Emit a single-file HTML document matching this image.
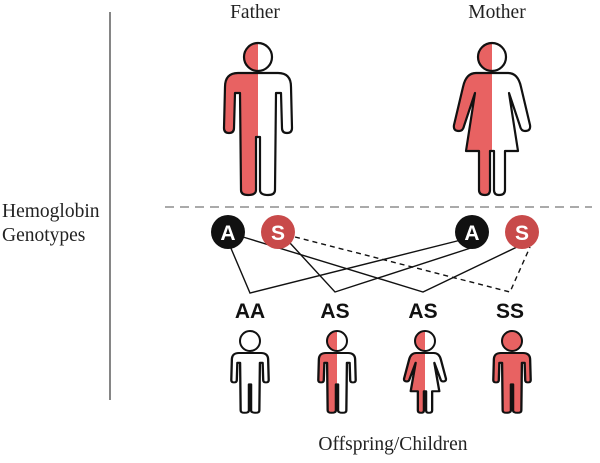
<!DOCTYPE html>
<html><head><style>html,body{margin:0;padding:0;background:#fff;}</style></head>
<body>
<svg width="600" height="458" viewBox="0 0 600 458" xmlns="http://www.w3.org/2000/svg">
<defs>
<clipPath id="L"><rect x="-100" y="-100" width="100" height="300"/></clipPath>
<path id="man" d="M-20,0 H20 Q33,0 33,14 L34,55 Q34,60 29,60 Q24,60 24,55 L23,20 L18,20 L17,117 Q17,122 10,122 Q2,122 2,117 L2,64 L-2,64 L-2,117 Q-2,122 -10,122 Q-17,122 -17,117 L-18,20 L-23,20 L-24,55 Q-24,60 -29,60 Q-34,60 -34,55 L-33,14 Q-33,0 -20,0Z"/>
<path id="wom" d="M-16,0 H16 Q26,0 29,14 L38,52 Q39,58 33,58 Q29,58 28,53 L17,20 L26,78 H13 L13,117 Q13,122 7,122 Q2,122 2,117 L2,78 H-2 L-2,117 Q-2,122 -7,122 Q-13,122 -13,117 L-13,78 H-26 L-17,20 L-28,53 Q-29,58 -33,58 Q-39,58 -38,52 L-29,14 Q-26,0 -16,0Z"/>
</defs>
<g font-family="Liberation Serif, serif" font-size="19.5" fill="#222">
<text x="255" y="18" text-anchor="middle">Father</text>
<text x="497" y="18" text-anchor="middle">Mother</text>
<text x="2" y="217">Hemoglobin</text>
<text x="2" y="241">Genotypes</text>
<text x="393" y="450" text-anchor="middle">Offspring/Children</text>
</g>
<line x1="110" y1="12" x2="110" y2="400" stroke="#444" stroke-width="1.3"/>
<line x1="165" y1="207" x2="592" y2="207" stroke="#777" stroke-width="1.3" stroke-dasharray="9,6"/>

<!-- Father -->
<g transform="translate(258,73)" stroke="#111" stroke-width="2.2" stroke-linejoin="round">
<use href="#man" fill="#fff" stroke="none"/>
<use href="#man" fill="#e86262" stroke="none" clip-path="url(#L)"/>
<use href="#man" fill="none"/>
<circle cy="-16" r="14" fill="#fff" stroke="none"/>
<circle cy="-16" r="14" fill="#e86262" stroke="none" clip-path="url(#L)"/>
<circle cy="-16" r="14" fill="none"/>
</g>
<!-- Mother -->
<g transform="translate(492,73)" stroke="#111" stroke-width="2.2" stroke-linejoin="round">
<use href="#wom" fill="#fff" stroke="none"/>
<use href="#wom" fill="#e86262" stroke="none" clip-path="url(#L)"/>
<use href="#wom" fill="none"/>
<circle cy="-16" r="14" fill="#fff" stroke="none"/>
<circle cy="-16" r="14" fill="#e86262" stroke="none" clip-path="url(#L)"/>
<circle cy="-16" r="14" fill="none"/>
</g>

<!-- lines -->
<g stroke="#111" stroke-width="1.4" fill="none">
<polyline points="230,246 250,293 465,239"/>
<polyline points="290,243 335,292 480,245"/>
<polyline points="243,237 423,292 517,247"/>
<polyline points="295,237 510,292 530,247" stroke-dasharray="5,4"/>
</g>
<g font-family="Liberation Sans, sans-serif" font-weight="bold" font-size="21" text-anchor="middle">
<circle cx="228" cy="232" r="17" fill="#111"/><text x="228" y="240" fill="#fff">A</text>
<circle cx="278" cy="232" r="17" fill="#c84a4a"/><text x="278" y="240" fill="#fff">S</text>
<circle cx="472" cy="232" r="17" fill="#111"/><text x="472" y="240" fill="#fff">A</text>
<circle cx="522" cy="232" r="17" fill="#c84a4a"/><text x="522" y="240" fill="#fff">S</text>
<g fill="#111"><text x="250" y="318">AA</text><text x="335" y="318">AS</text><text x="423" y="318">AS</text><text x="510" y="318">SS</text></g>
</g>

<!-- children -->
<g stroke="#111" stroke-linejoin="round">
<g transform="translate(250,353)">
<g transform="scale(0.55,0.49)" stroke-width="4.2"><use href="#man" fill="#fff"/></g>
<circle cy="-12" r="10" fill="#fff" stroke-width="2"/>
</g>
<g transform="translate(337,353)">
<g transform="scale(0.55,0.49)" stroke-width="4.2"><use href="#man" fill="#fff" stroke="none"/><use href="#man" fill="#e86262" stroke="none" clip-path="url(#L)"/><use href="#man" fill="none"/></g>
<circle cy="-12" r="10" fill="#fff" stroke="none"/><circle cy="-12" r="10" fill="#e86262" stroke="none" clip-path="url(#L)"/><circle cy="-12" r="10" fill="none" stroke-width="2"/>
</g>
<g transform="translate(425,353)">
<g transform="scale(0.55,0.49)" stroke-width="4.2"><use href="#wom" fill="#fff" stroke="none"/><use href="#wom" fill="#e86262" stroke="none" clip-path="url(#L)"/><use href="#wom" fill="none"/></g>
<circle cy="-12" r="10" fill="#fff" stroke="none"/><circle cy="-12" r="10" fill="#e86262" stroke="none" clip-path="url(#L)"/><circle cy="-12" r="10" fill="none" stroke-width="2"/>
</g>
<g transform="translate(512,353)">
<g transform="scale(0.55,0.49)" stroke-width="4.2"><use href="#man" fill="#e86262"/></g>
<circle cy="-12" r="10" fill="#e86262" stroke-width="2"/>
</g>
</g>
</svg>
</body></html>
